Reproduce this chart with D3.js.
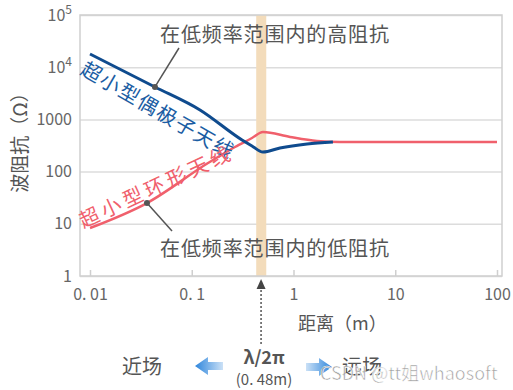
<!DOCTYPE html>
<html>
<head>
<meta charset="utf-8">
<script src="https://cdn.jsdelivr.net/npm/d3@7"></script>
<style>
  body { margin: 0; background: #fff; }
  svg text { font-family: "Noto Sans CJK JP", "Noto Sans CJK SC", "Liberation Sans", sans-serif; }
</style>
</head>
<body>
<div id="chart"></div>
<script>
// distance (m) and wave impedance (ohm)
var dipoleDist = [0.01, 0.0435, 0.1205, 0.312, 0.391, 0.501, 0.736, 1.36, 2.44];
var dipoleZ    = [17900, 4180, 1515, 403, 310, 237, 283, 338, 369];

var loopDist = [0.01, 0.0363, 0.1445, 0.266, 0.391, 0.501, 0.925, 1.70, 2.86, 100];
var loopZ    = [8.3, 25, 146, 296, 440, 574, 460, 386, 369, 369];

var xTicks = [0.01, 0.1, 1, 10, 100];
var xTickLabels = ["0. 01", "0. 1", "1", "10", "100"];
var yTicks = [1, 10, 100, 1000, 1e4, 1e5];
var yTickLabels = ["1", "10", "100", "1000", "10^4", "10^5"];

var boundary = 0.48;           // lambda / 2pi
var bandRange = [0.43, 0.54];

var W = 513, H = 390;
var pL = 80, pR = 502, pT = 15, pB = 276;   // plot frame

var svg = d3.select("#chart").append("svg")
    .attr("width", W).attr("height", H);

var x = d3.scaleLog().domain([0.01, 100]).range([90, 497]);
var y = d3.scaleLog().domain([1, 1e5]).range([pB, pT]);

// gridlines + y labels
var yAxis = svg.append("g")
    .attr("transform", "translate(" + pL + ",0)")
    .call(d3.axisLeft(y).tickValues(yTicks).tickSize(-(pR - pL)).tickPadding(8)
        .tickFormat(function(d, i) { return yTickLabels[i]; }));
yAxis.select(".domain").remove();
yAxis.selectAll("line").attr("stroke", "#dcdcdc").attr("stroke-width", 1.5);
yAxis.selectAll("text")
    .attr("fill", "#666").attr("font-size", 16)
    .attr("font-family", "Liberation Sans, Arial, sans-serif")
    .each(function(d, i) {
        var lab = yTickLabels[i];
        if (lab.indexOf("^") > 0) {
            var t = d3.select(this).text(lab.split("^")[0]);
            t.append("tspan").attr("dy", "-0.55em").attr("font-size", 12).text(lab.split("^")[1]);
        }
    });

// frequency boundary band
svg.append("rect")
    .attr("x", x(bandRange[0])).attr("y", pT)
    .attr("width", x(bandRange[1]) - x(bandRange[0]))
    .attr("height", pB - pT)
    .attr("fill", "#f3dcbb");

// frame
svg.append("rect")
    .attr("x", pL).attr("y", pT)
    .attr("width", pR - pL).attr("height", pB - pT)
    .attr("fill", "none").attr("stroke", "#cfcfcf").attr("stroke-width", 1.5);

// x axis with inward ticks
var xAxis = svg.append("g")
    .attr("transform", "translate(0," + pB + ")")
    .call(d3.axisBottom(x).tickValues(xTicks).tickSize(-6).tickPadding(13)
        .tickFormat(function(d, i) { return xTickLabels[i]; }));
xAxis.select(".domain").remove();
xAxis.selectAll("line").attr("stroke", "#cfcfcf").attr("stroke-width", 1.5);
xAxis.selectAll("text").attr("fill", "#666").attr("font-size", 16)
    .attr("font-family", "Liberation Sans, Arial, sans-serif");

// curves
var line = d3.line()
    .x(function(d) { return x(d[0]); })
    .y(function(d) { return y(d[1]); })
    .curve(d3.curveMonotoneX);

svg.append("path")
    .datum(d3.zip(loopDist, loopZ))
    .attr("d", line)
    .attr("fill", "none").attr("stroke", "#f0606c").attr("stroke-width", 2.5);

svg.append("path")
    .datum(d3.zip(dipoleDist, dipoleZ))
    .attr("d", line)
    .attr("fill", "none").attr("stroke", "#0f4b8e").attr("stroke-width", 3);

// curve labels along the lines
svg.append("text")
    .attr("transform", "translate(158,109) rotate(30)")
    .attr("text-anchor", "middle").attr("dominant-baseline", "central")
    .attr("font-size", 20).attr("fill", "#1b5da3")
    .attr("textLength", 172).attr("lengthAdjust", "spacing")
    .text("超小型偶极子天线");

svg.append("text")
    .attr("transform", "translate(154,186) rotate(-25)")
    .attr("text-anchor", "middle").attr("dominant-baseline", "central")
    .attr("font-size", 20).attr("fill", "#f0606c")
    .attr("textLength", 164).attr("lengthAdjust", "spacing")
    .text("超小型环形天线");

// callouts
var hiPt = [0.0435, 4180], loPt = [0.0363, 25];
svg.append("line")
    .attr("x1", x(hiPt[0])).attr("y1", y(hiPt[1]))
    .attr("x2", 179).attr("y2", 48)
    .attr("stroke", "#555").attr("stroke-width", 1.5);
svg.append("circle").attr("cx", x(hiPt[0])).attr("cy", y(hiPt[1])).attr("r", 3).attr("fill", "#555");
svg.append("line")
    .attr("x1", x(loPt[0])).attr("y1", y(loPt[1]))
    .attr("x2", 172).attr("y2", 231)
    .attr("stroke", "#555").attr("stroke-width", 1.5);
svg.append("circle").attr("cx", x(loPt[0])).attr("cy", y(loPt[1])).attr("r", 3).attr("fill", "#555");

svg.append("text")
    .attr("x", 160).attr("y", 33).attr("dominant-baseline", "central")
    .attr("font-size", 20).attr("fill", "#555")
    .attr("textLength", 229).attr("lengthAdjust", "spacing")
    .text("在低频率范围内的高阻抗");
svg.append("text")
    .attr("x", 160).attr("y", 247).attr("dominant-baseline", "central")
    .attr("font-size", 20).attr("fill", "#555")
    .attr("textLength", 229).attr("lengthAdjust", "spacing")
    .text("在低频率范围内的低阻抗");

// axis titles
svg.append("text")
    .attr("transform", "translate(18,138) rotate(-90)")
    .attr("text-anchor", "middle").attr("dominant-baseline", "central")
    .attr("font-size", 19).attr("fill", "#555")
    .text("波阻抗（Ω）");
svg.append("text")
    .attr("x", 298).attr("y", 322).attr("dominant-baseline", "central")
    .attr("font-size", 18).attr("fill", "#555")
    .text("距离（m）");

// dashed arrow under the boundary
var bx = x(boundary);
svg.append("line")
    .attr("x1", bx).attr("y1", 286).attr("x2", bx).attr("y2", 344)
    .attr("stroke", "#555").attr("stroke-width", 1.5).attr("stroke-dasharray", "2,2");
svg.append("path")
    .attr("d", "M" + bx + ",279 L" + (bx - 4.5) + ",289 L" + (bx + 4.5) + ",289 Z")
    .attr("fill", "#444");

svg.append("text")
    .attr("x", bx + 3).attr("y", 356).attr("text-anchor", "middle").attr("dominant-baseline", "central")
    .attr("font-size", 18).attr("font-weight", 600).attr("fill", "#555")
    .text("λ/2π");
svg.append("text")
    .attr("x", bx + 3).attr("y", 378).attr("text-anchor", "middle").attr("dominant-baseline", "central")
    .attr("font-size", 15).attr("fill", "#555")
    .text("(0. 48m)");

// near / far field arrows
var defs = svg.append("defs");
var gl = defs.append("linearGradient").attr("id", "gl");
gl.append("stop").attr("offset", "0%").attr("stop-color", "#2f86dc");
gl.append("stop").attr("offset", "100%").attr("stop-color", "#2f86dc").attr("stop-opacity", 0.25);
var gr = defs.append("linearGradient").attr("id", "gr");
gr.append("stop").attr("offset", "0%").attr("stop-color", "#2f86dc").attr("stop-opacity", 0.25);
gr.append("stop").attr("offset", "100%").attr("stop-color", "#2f86dc");

svg.append("path")
    .attr("d", "M195,366 L208,357 L208,362 L223,362 L223,370 L208,370 L208,375 Z")
    .attr("fill", "url(#gl)");
svg.append("path")
    .attr("d", "M332,367 L319,358 L319,363 L306,363 L306,371 L319,371 L319,376 Z")
    .attr("fill", "url(#gr)");

svg.append("text")
    .attr("x", 122).attr("y", 365).attr("dominant-baseline", "central")
    .attr("font-size", 20).attr("fill", "#555").text("近场");
svg.append("text")
    .attr("x", 342).attr("y", 365).attr("dominant-baseline", "central")
    .attr("font-size", 20).attr("fill", "#555").text("远场");

// watermark
svg.append("text")
    .attr("x", 320).attr("y", 372).attr("dominant-baseline", "central")
    .attr("font-size", 18).attr("fill", "#8a8a8a").attr("fill-opacity", 0.85)
    .attr("stroke", "#fff").attr("stroke-width", 0.6)
    .attr("font-family", "Liberation Sans, Arial, sans-serif")
    .text("CSDN @tt姐whaosoft");
</script>
</body>
</html>
